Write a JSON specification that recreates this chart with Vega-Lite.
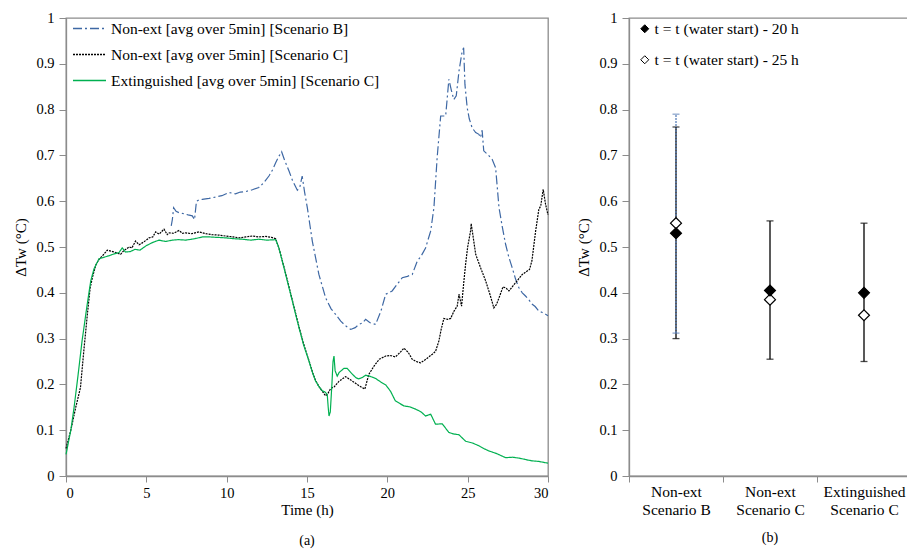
{
  "$schema": "https://vega.github.io/schema/vega-lite/v6.json",
  "background": "white",
  "padding": {"left": 13, "top": 9, "right": 0, "bottom": 5},
  "spacing": 24,
  "resolve": {
    "scale": {"color": "independent", "strokeDash": "independent", "fill": "independent", "x": "independent", "y": "independent"},
    "legend": {"color": "independent", "strokeDash": "independent", "fill": "independent"}
  },
  "config": {
    "font": "Liberation Serif",
    "view": {"stroke": "#8c8c8c", "strokeWidth": 1.3},
    "axis": {"domainColor": "#8c8c8c", "domainWidth": 1.3, "tickColor": "#8c8c8c", "labelFontSize": 14.5, "titleFontSize": 15, "labelColor": "black", "titleColor": "black", "titleFontWeight": "normal", "grid": false, "tickSize": 6, "labelPadding": 4},
    "legend": {"labelFontSize": 15.5, "labelColor": "black", "title": null, "labelLimit": 500},
    "title": {"fontSize": 14, "fontWeight": "normal", "color": "black"}
  },
  "datasets": {
    "lines": [
      {"s":"B","t":6.55,"v":0.546},{"s":"B","t":6.62,"v":0.56},{"s":"B","t":6.7,"v":0.586},{"s":"B","t":6.85,"v":0.578},{"s":"B","t":7.03,"v":0.575},{"s":"B","t":7.3,"v":0.573},{"s":"B","t":7.6,"v":0.57},{"s":"B","t":7.86,"v":0.568},{"s":"B","t":8.0,"v":0.56},{"s":"B","t":8.12,"v":0.6},{"s":"B","t":8.3,"v":0.603},{"s":"B","t":8.48,"v":0.604},{"s":"B","t":8.9,"v":0.606},{"s":"B","t":9.3,"v":0.609},{"s":"B","t":9.7,"v":0.612},{"s":"B","t":10.14,"v":0.619},{"s":"B","t":10.55,"v":0.616},{"s":"B","t":10.85,"v":0.62},{"s":"B","t":11.18,"v":0.621},{"s":"B","t":11.6,"v":0.625},{"s":"B","t":12.0,"v":0.63},{"s":"B","t":12.3,"v":0.64},{"s":"B","t":12.63,"v":0.655},{"s":"B","t":12.85,"v":0.668},{"s":"B","t":13.05,"v":0.684},{"s":"B","t":13.25,"v":0.698},{"s":"B","t":13.42,"v":0.708},{"s":"B","t":13.6,"v":0.69},{"s":"B","t":13.88,"v":0.666},{"s":"B","t":14.1,"v":0.645},{"s":"B","t":14.4,"v":0.624},{"s":"B","t":14.55,"v":0.63},{"s":"B","t":14.7,"v":0.655},{"s":"B","t":14.85,"v":0.62},{"s":"B","t":15.02,"v":0.586},{"s":"B","t":15.33,"v":0.513},{"s":"B","t":15.74,"v":0.44},{"s":"B","t":16.16,"v":0.389},{"s":"B","t":16.5,"v":0.365},{"s":"B","t":16.78,"v":0.353},{"s":"B","t":17.1,"v":0.338},{"s":"B","t":17.4,"v":0.328},{"s":"B","t":17.72,"v":0.32},{"s":"B","t":18.0,"v":0.324},{"s":"B","t":18.23,"v":0.331},{"s":"B","t":18.45,"v":0.334},{"s":"B","t":18.65,"v":0.342},{"s":"B","t":18.9,"v":0.335},{"s":"B","t":19.27,"v":0.331},{"s":"B","t":19.6,"v":0.36},{"s":"B","t":19.9,"v":0.397},{"s":"B","t":20.1,"v":0.4},{"s":"B","t":20.3,"v":0.404},{"s":"B","t":20.6,"v":0.418},{"s":"B","t":20.93,"v":0.433},{"s":"B","t":21.25,"v":0.436},{"s":"B","t":21.55,"v":0.44},{"s":"B","t":21.86,"v":0.469},{"s":"B","t":22.1,"v":0.48},{"s":"B","t":22.38,"v":0.498},{"s":"B","t":22.7,"v":0.535},{"s":"B","t":22.9,"v":0.586},{"s":"B","t":23.1,"v":0.695},{"s":"B","t":23.32,"v":0.786},{"s":"B","t":23.63,"v":0.786},{"s":"B","t":23.83,"v":0.866},{"s":"B","t":24.0,"v":0.84},{"s":"B","t":24.14,"v":0.822},{"s":"B","t":24.29,"v":0.83},{"s":"B","t":24.46,"v":0.884},{"s":"B","t":24.66,"v":0.928},{"s":"B","t":24.75,"v":0.935},{"s":"B","t":24.83,"v":0.855},{"s":"B","t":24.97,"v":0.804},{"s":"B","t":25.1,"v":0.78},{"s":"B","t":25.28,"v":0.76},{"s":"B","t":25.5,"v":0.75},{"s":"B","t":25.7,"v":0.746},{"s":"B","t":25.8,"v":0.739},{"s":"B","t":25.9,"v":0.755},{"s":"B","t":26.0,"v":0.71},{"s":"B","t":26.3,"v":0.7},{"s":"B","t":26.53,"v":0.691},{"s":"B","t":26.74,"v":0.673},{"s":"B","t":26.95,"v":0.586},{"s":"B","t":27.15,"v":0.545},{"s":"B","t":27.36,"v":0.506},{"s":"B","t":27.56,"v":0.478},{"s":"B","t":27.77,"v":0.455},{"s":"B","t":27.98,"v":0.43},{"s":"B","t":28.19,"v":0.411},{"s":"B","t":28.4,"v":0.4},{"s":"B","t":28.6,"v":0.393},{"s":"B","t":28.8,"v":0.385},{"s":"B","t":29.02,"v":0.375},{"s":"B","t":29.2,"v":0.37},{"s":"B","t":29.43,"v":0.36},{"s":"B","t":29.65,"v":0.357},{"s":"B","t":29.85,"v":0.353},{"s":"B","t":30.0,"v":0.35},
      {"s":"C","t":0,"v":0.06},{"s":"C","t":0.3,"v":0.1},{"s":"C","t":0.6,"v":0.149},{"s":"C","t":0.9,"v":0.193},{"s":"C","t":1.1,"v":0.27},{"s":"C","t":1.33,"v":0.353},{"s":"C","t":1.5,"v":0.41},{"s":"C","t":1.64,"v":0.433},{"s":"C","t":1.85,"v":0.46},{"s":"C","t":2.05,"v":0.473},{"s":"C","t":2.3,"v":0.482},{"s":"C","t":2.57,"v":0.493},{"s":"C","t":2.9,"v":0.49},{"s":"C","t":3.1,"v":0.488},{"s":"C","t":3.4,"v":0.484},{"s":"C","t":3.6,"v":0.492},{"s":"C","t":3.92,"v":0.5},{"s":"C","t":4.1,"v":0.498},{"s":"C","t":4.33,"v":0.513},{"s":"C","t":4.55,"v":0.505},{"s":"C","t":4.75,"v":0.509},{"s":"C","t":5.0,"v":0.515},{"s":"C","t":5.17,"v":0.52},{"s":"C","t":5.4,"v":0.522},{"s":"C","t":5.58,"v":0.533},{"s":"C","t":5.8,"v":0.528},{"s":"C","t":6.1,"v":0.539},{"s":"C","t":6.3,"v":0.527},{"s":"C","t":6.41,"v":0.531},{"s":"C","t":6.7,"v":0.53},{"s":"C","t":7.03,"v":0.536},{"s":"C","t":7.25,"v":0.53},{"s":"C","t":7.45,"v":0.531},{"s":"C","t":7.8,"v":0.529},{"s":"C","t":8.28,"v":0.533},{"s":"C","t":8.7,"v":0.529},{"s":"C","t":9.1,"v":0.527},{"s":"C","t":9.5,"v":0.526},{"s":"C","t":9.94,"v":0.524},{"s":"C","t":10.4,"v":0.522},{"s":"C","t":10.77,"v":0.52},{"s":"C","t":11.2,"v":0.522},{"s":"C","t":11.6,"v":0.524},{"s":"C","t":12.0,"v":0.522},{"s":"C","t":12.43,"v":0.523},{"s":"C","t":12.8,"v":0.521},{"s":"C","t":13.05,"v":0.518},{"s":"C","t":13.25,"v":0.498},{"s":"C","t":13.6,"v":0.452},{"s":"C","t":13.88,"v":0.413},{"s":"C","t":14.2,"v":0.368},{"s":"C","t":14.5,"v":0.326},{"s":"C","t":14.8,"v":0.287},{"s":"C","t":15.12,"v":0.252},{"s":"C","t":15.35,"v":0.226},{"s":"C","t":15.54,"v":0.208},{"s":"C","t":15.75,"v":0.195},{"s":"C","t":15.95,"v":0.185},{"s":"C","t":16.16,"v":0.175},{"s":"C","t":16.3,"v":0.18},{"s":"C","t":16.47,"v":0.191},{"s":"C","t":16.7,"v":0.195},{"s":"C","t":17.0,"v":0.207},{"s":"C","t":17.4,"v":0.217},{"s":"C","t":17.7,"v":0.21},{"s":"C","t":18.0,"v":0.203},{"s":"C","t":18.2,"v":0.198},{"s":"C","t":18.44,"v":0.193},{"s":"C","t":18.6,"v":0.19},{"s":"C","t":18.85,"v":0.222},{"s":"C","t":19.17,"v":0.24},{"s":"C","t":19.5,"v":0.255},{"s":"C","t":19.9,"v":0.262},{"s":"C","t":20.2,"v":0.263},{"s":"C","t":20.5,"v":0.26},{"s":"C","t":20.8,"v":0.27},{"s":"C","t":21.03,"v":0.279},{"s":"C","t":21.3,"v":0.27},{"s":"C","t":21.55,"v":0.255},{"s":"C","t":21.8,"v":0.25},{"s":"C","t":22.07,"v":0.247},{"s":"C","t":22.4,"v":0.255},{"s":"C","t":22.8,"v":0.266},{"s":"C","t":23.0,"v":0.272},{"s":"C","t":23.21,"v":0.295},{"s":"C","t":23.35,"v":0.32},{"s":"C","t":23.52,"v":0.344},{"s":"C","t":23.75,"v":0.342},{"s":"C","t":23.94,"v":0.344},{"s":"C","t":24.15,"v":0.36},{"s":"C","t":24.35,"v":0.371},{"s":"C","t":24.46,"v":0.397},{"s":"C","t":24.62,"v":0.371},{"s":"C","t":24.75,"v":0.42},{"s":"C","t":24.87,"v":0.462},{"s":"C","t":25.0,"v":0.5},{"s":"C","t":25.18,"v":0.535},{"s":"C","t":25.22,"v":0.551},{"s":"C","t":25.35,"v":0.52},{"s":"C","t":25.5,"v":0.484},{"s":"C","t":25.8,"v":0.455},{"s":"C","t":26.12,"v":0.426},{"s":"C","t":26.4,"v":0.395},{"s":"C","t":26.63,"v":0.367},{"s":"C","t":26.8,"v":0.375},{"s":"C","t":26.95,"v":0.389},{"s":"C","t":27.2,"v":0.413},{"s":"C","t":27.4,"v":0.41},{"s":"C","t":27.57,"v":0.404},{"s":"C","t":27.98,"v":0.422},{"s":"C","t":28.4,"v":0.44},{"s":"C","t":28.85,"v":0.451},{"s":"C","t":29.0,"v":0.47},{"s":"C","t":29.23,"v":0.535},{"s":"C","t":29.43,"v":0.582},{"s":"C","t":29.55,"v":0.59},{"s":"C","t":29.7,"v":0.626},{"s":"C","t":29.85,"v":0.593},{"s":"C","t":30.0,"v":0.57},
      {"s":"E","t":0,"v":0.047},{"s":"E","t":0.3,"v":0.1},{"s":"E","t":0.5,"v":0.149},{"s":"E","t":0.75,"v":0.22},{"s":"E","t":1.0,"v":0.295},{"s":"E","t":1.3,"v":0.37},{"s":"E","t":1.54,"v":0.426},{"s":"E","t":1.74,"v":0.452},{"s":"E","t":2.05,"v":0.474},{"s":"E","t":2.4,"v":0.478},{"s":"E","t":2.68,"v":0.481},{"s":"E","t":3.0,"v":0.485},{"s":"E","t":3.3,"v":0.488},{"s":"E","t":3.5,"v":0.498},{"s":"E","t":3.7,"v":0.489},{"s":"E","t":4.0,"v":0.49},{"s":"E","t":4.3,"v":0.495},{"s":"E","t":4.6,"v":0.493},{"s":"E","t":5.0,"v":0.503},{"s":"E","t":5.4,"v":0.51},{"s":"E","t":5.79,"v":0.515},{"s":"E","t":6.2,"v":0.512},{"s":"E","t":6.6,"v":0.515},{"s":"E","t":7.0,"v":0.516},{"s":"E","t":7.45,"v":0.515},{"s":"E","t":8.0,"v":0.518},{"s":"E","t":8.5,"v":0.522},{"s":"E","t":8.9,"v":0.522},{"s":"E","t":9.4,"v":0.521},{"s":"E","t":9.94,"v":0.52},{"s":"E","t":10.5,"v":0.518},{"s":"E","t":10.97,"v":0.517},{"s":"E","t":11.5,"v":0.515},{"s":"E","t":12.0,"v":0.517},{"s":"E","t":12.5,"v":0.515},{"s":"E","t":13.05,"v":0.516},{"s":"E","t":13.25,"v":0.498},{"s":"E","t":13.6,"v":0.45},{"s":"E","t":13.88,"v":0.411},{"s":"E","t":14.2,"v":0.366},{"s":"E","t":14.5,"v":0.324},{"s":"E","t":14.8,"v":0.285},{"s":"E","t":15.12,"v":0.251},{"s":"E","t":15.35,"v":0.225},{"s":"E","t":15.54,"v":0.207},{"s":"E","t":15.75,"v":0.195},{"s":"E","t":15.95,"v":0.186},{"s":"E","t":16.1,"v":0.184},{"s":"E","t":16.26,"v":0.178},{"s":"E","t":16.32,"v":0.15},{"s":"E","t":16.37,"v":0.131},{"s":"E","t":16.45,"v":0.14},{"s":"E","t":16.55,"v":0.2},{"s":"E","t":16.62,"v":0.25},{"s":"E","t":16.68,"v":0.262},{"s":"E","t":16.75,"v":0.23},{"s":"E","t":16.88,"v":0.218},{"s":"E","t":17.0,"v":0.226},{"s":"E","t":17.3,"v":0.235},{"s":"E","t":17.5,"v":0.235},{"s":"E","t":17.75,"v":0.225},{"s":"E","t":18.03,"v":0.215},{"s":"E","t":18.2,"v":0.212},{"s":"E","t":18.44,"v":0.215},{"s":"E","t":18.65,"v":0.22},{"s":"E","t":18.9,"v":0.218},{"s":"E","t":19.27,"v":0.213},{"s":"E","t":19.6,"v":0.205},{"s":"E","t":19.9,"v":0.199},{"s":"E","t":20.2,"v":0.185},{"s":"E","t":20.5,"v":0.164},{"s":"E","t":21.03,"v":0.153},{"s":"E","t":21.4,"v":0.151},{"s":"E","t":21.76,"v":0.146},{"s":"E","t":22.1,"v":0.14},{"s":"E","t":22.38,"v":0.131},{"s":"E","t":22.7,"v":0.135},{"s":"E","t":23.0,"v":0.113},{"s":"E","t":23.42,"v":0.114},{"s":"E","t":23.83,"v":0.095},{"s":"E","t":24.1,"v":0.092},{"s":"E","t":24.46,"v":0.09},{"s":"E","t":24.87,"v":0.076},{"s":"E","t":25.3,"v":0.072},{"s":"E","t":25.7,"v":0.066},{"s":"E","t":26.0,"v":0.06},{"s":"E","t":26.3,"v":0.055},{"s":"E","t":26.8,"v":0.049},{"s":"E","t":27.36,"v":0.04},{"s":"E","t":27.8,"v":0.041},{"s":"E","t":28.2,"v":0.039},{"s":"E","t":28.6,"v":0.036},{"s":"E","t":29.0,"v":0.033},{"s":"E","t":29.4,"v":0.032},{"s":"E","t":29.85,"v":0.029},{"s":"E","t":30.0,"v":0.028}
    ],
    "pts": [
      {"cat":"Non-ext|Scenario B","s":"25","v":0.552},
      {"cat":"Non-ext|Scenario C","s":"25","v":0.385},
      {"cat":"Extinguished|Scenario C","s":"25","v":0.351},
      {"cat":"Non-ext|Scenario B","s":"20","v":0.53},
      {"cat":"Non-ext|Scenario C","s":"20","v":0.405},
      {"cat":"Extinguished|Scenario C","s":"20","v":0.4}
    ],
    "errs": [
      {"cat":"Non-ext|Scenario B","g":"e20","lo":0.3,"hi":0.762},
      {"cat":"Non-ext|Scenario C","g":"e20","lo":0.255,"hi":0.557},
      {"cat":"Extinguished|Scenario C","g":"e20","lo":0.25,"hi":0.552},
      {"cat":"Non-ext|Scenario B","g":"e25","lo":0.312,"hi":0.79}
    ]
  },
  "hconcat": [
    {
      "width": 482,
      "height": 458,
      "title": {"text": "(a)", "orient": "bottom", "frame": "group", "offset": 16},
      "data": {"name": "lines"},
      "mark": {"type": "line", "strokeWidth": 1.2},
      "encoding": {
        "x": {"field": "t", "type": "quantitative", "scale": {"domain": [0, 30], "nice": false}, "axis": {"values": [0,5,10,15,20,25,30], "title": "Time (h)", "titlePadding": 3, "labelPadding": 4}},
        "y": {"field": "v", "type": "quantitative", "scale": {"domain": [0, 1], "nice": false}, "axis": {"values": [0,0.1,0.2,0.3,0.4,0.5,0.6,0.7,0.8,0.9,1], "format": ".1~f", "title": "ΔTw (°C)", "titlePadding": 7, "tickSize": 7, "labelPadding": 5}},
        "color": {"field": "s", "type": "nominal", "scale": {"domain": ["B","C","E"], "range": ["#3e68a4","#000000","#00b050"]},
          "legend": {"orient": "none", "legendX": 6, "legendY": -7, "symbolType": "stroke", "symbolSize": 1089, "symbolStrokeWidth": 1.3, "rowPadding": -9.5, "labelOffset": 4,
            "labelExpr": "datum.value == 'B' ? 'Non-ext [avg over 5min] [Scenario B]' : datum.value == 'C' ? 'Non-ext  [avg over 5min] [Scenario C]' : 'Extinguished [avg over 5min] [Scenario C]'"}},
        "strokeDash": {"field": "s", "type": "nominal", "scale": {"domain": ["B","C","E"], "range": [[9,3,2,3],[2,1],[1,0]]},
          "legend": {"orient": "none", "legendX": 6, "legendY": -7, "symbolType": "stroke", "symbolSize": 1089, "symbolStrokeWidth": 1.3, "rowPadding": -9.5, "labelOffset": 4,
            "labelExpr": "datum.value == 'B' ? 'Non-ext [avg over 5min] [Scenario B]' : datum.value == 'C' ? 'Non-ext  [avg over 5min] [Scenario C]' : 'Extinguished [avg over 5min] [Scenario C]'"}}
      }
    },
    {
      "width": 282,
      "height": 458,
      "title": {"text": "(b)", "orient": "bottom", "frame": "group", "offset": 13},
      "encoding": {
        "x": {"field": "cat", "type": "nominal", "sort": ["Non-ext|Scenario B","Non-ext|Scenario C","Extinguished|Scenario C"], "scale": {"paddingInner": 0, "paddingOuter": 0},
          "axis": {"title": null, "labelAngle": 0, "tickBand": "extent", "labelExpr": "split(datum.label, '|')", "labelLineHeight": 18, "labelPadding": 2, "labelFontSize": 15.5}}
      },
      "layer": [
        {
          "data": {"name": "errs"},
          "mark": {"type": "rule", "strokeWidth": 1.3},
          "encoding": {
            "y": {"field": "lo", "type": "quantitative", "scale": {"domain": [0, 1], "nice": false}, "axis": {"values": [0,0.1,0.2,0.3,0.4,0.5,0.6,0.7,0.8,0.9,1], "format": ".1~f", "title": "ΔTw (°C)", "titlePadding": 7, "tickSize": 7, "labelPadding": 5}},
            "y2": {"field": "hi"},
            "color": {"field": "g", "type": "nominal", "scale": {"domain": ["e20","e25"], "range": ["#000000","#5b80b8"]}, "legend": null},
            "strokeDash": {"field": "g", "type": "nominal", "scale": {"domain": ["e20","e25"], "range": [[1,0],[2,1]]}, "legend": null}
          }
        },
        {
          "data": {"name": "errs"},
          "mark": {"type": "tick", "size": 7, "thickness": 1.3},
          "encoding": {
            "y": {"field": "lo", "type": "quantitative"},
            "color": {"field": "g", "type": "nominal", "legend": null}
          }
        },
        {
          "data": {"name": "errs"},
          "mark": {"type": "tick", "size": 7, "thickness": 1.3},
          "encoding": {
            "y": {"field": "hi", "type": "quantitative"},
            "color": {"field": "g", "type": "nominal", "legend": null}
          }
        },
        {
          "data": {"name": "pts"},
          "mark": {"type": "point", "shape": "diamond", "size": 120, "stroke": "black", "strokeWidth": 1.2, "opacity": 1},
          "encoding": {
            "y": {"field": "v", "type": "quantitative"},
            "fill": {"field": "s", "type": "nominal", "scale": {"domain": ["20","25"], "range": ["#000000","#ffffff"]},
              "legend": {"orient": "none", "legendX": 8, "legendY": 3, "symbolType": "diamond", "symbolSize": 64, "symbolStrokeColor": "black", "symbolStrokeWidth": 1, "rowPadding": 14, "labelOffset": 2,
                "labelExpr": "'t = t (water start) - ' + datum.value + ' h'"}}
          }
        }
      ]
    }
  ]
}
